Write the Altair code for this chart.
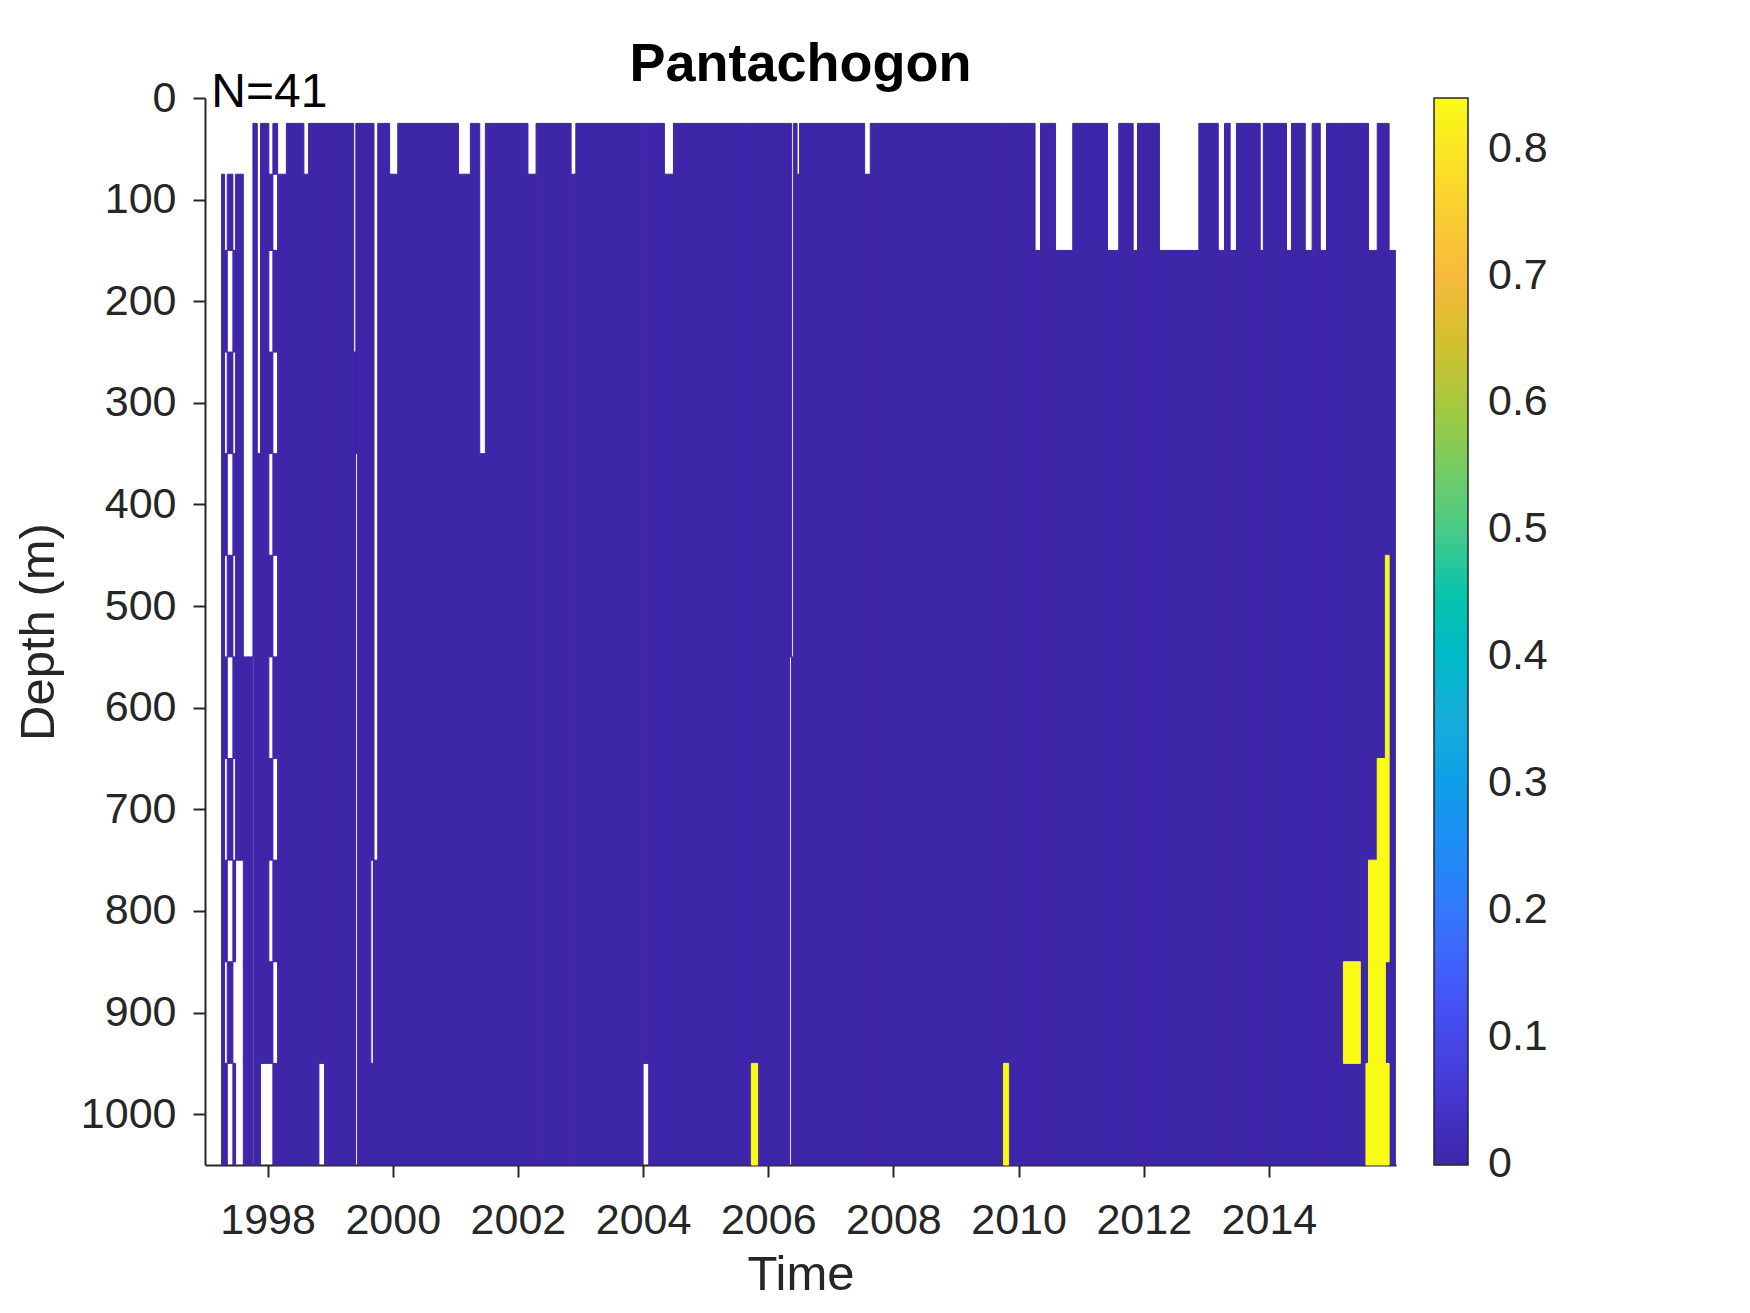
import altair as alt
import pandas as pd

# ---------------- data ----------------
bin_top = [25, 75, 150, 250, 350, 450, 550, 650, 750, 850, 950]
bin_bottom = [75, 150, 250, 350, 450, 550, 650, 750, 850, 950, 1050]

# early (1997-1998) sampling columns: start, end, coverage mask of the 11 depth bins
early_start = [1997.265, 1997.313, 1997.356, 1997.446, 1997.489, 1997.612, 1997.766,
               1997.780, 1997.835, 1997.888, 1998.020, 1998.085, 1998.160]
early_end = [1997.313, 1997.356, 1997.446, 1997.489, 1997.612, 1997.766, 1997.780,
             1997.835, 1997.888, 1998.020, 1998.085, 1998.160, 1998.300]
early_mask = ["01111111111", "00101010101", "01010101010", "00101010101", "01111111000",
              "00000011111", "11111100000", "11111111111", "00001111111", "11111111110",
              "01010101010", "10101010101", "01111111111"]

# continuous record afterwards, with missing cells (gaps)
main_start = 1998.300
main_end = 2016.020
gap_start = [1998.580, 1998.820, 1999.375, 1999.405, 1999.650, 1999.700, 1999.950,
             2001.050, 2001.390, 2002.160, 2002.850, 2004.000, 2004.340, 2006.370,
             2006.340, 2006.460, 2007.540, 2010.263, 2010.590, 2011.420, 2011.830,
             2012.250, 2013.190, 2013.380, 2013.860, 2014.280, 2014.580, 2014.820,
             2015.590, 2015.920]
gap_end = [1998.655, 1998.910, 1999.410, 1999.435, 1999.690, 1999.760, 2000.080,
           2001.240, 2001.480, 2002.290, 2002.925, 2004.090, 2004.485, 2006.400,
           2006.370, 2006.500, 2007.630, 2010.350, 2010.865, 2011.600, 2011.900,
           2012.880, 2013.290, 2013.480, 2013.910, 2014.360, 2014.690, 2014.920,
           2015.730, 2016.020]
gap_first_bin = [0, 10, 0, 4, 8, 0, 0, 0, 0, 0, 0, 10, 0, 0, 6, 0, 0,
                 0, 0, 0, 0, 0, 0, 0, 0, 0, 0, 0, 0, 0]
gap_last_bin = [0, 10, 2, 10, 9, 7, 0, 0, 3, 0, 0, 10, 0, 5, 10, 0, 0,
                1, 1, 1, 1, 1, 1, 1, 1, 1, 1, 1, 1, 1]

# non-zero values
peak_start = [2005.73, 2009.76, 2015.19, 2015.59, 2015.55, 2015.59, 2015.73, 2015.86, 2015.86]
peak_end = [2005.83, 2009.84, 2015.46, 2015.86, 2015.92, 2015.92, 2015.92, 2015.92, 2015.92]
peak_bin = [10, 10, 9, 9, 10, 8, 7, 6, 5]
peak_value = [0.84, 0.84, 0.84, 0.84, 0.84, 0.84, 0.84, 0.84, 0.84]

x_ticks = [1998, 2000, 2002, 2004, 2006, 2008, 2010, 2012, 2014]
y_ticks = [0, 100, 200, 300, 400, 500, 600, 700, 800, 900, 1000]
cbar_ticks = [0, 0.1, 0.2, 0.3, 0.4, 0.5, 0.6, 0.7, 0.8]
cbar_min = -0.001
cbar_max = 0.84

note_label = ["N=41"]
note_x = [1997.10]
note_y = [8.5]

parula = ["#3E26A8", "#463BDE", "#4758F8", "#327CFC", "#2796EB", "#18ADDB", "#0BBDBD",
          "#3FCA8E", "#81CC59", "#C5C22A", "#F8BA3D", "#FAD62D", "#F9FB15"]

# ---------------- build cells ----------------
rects = []


def add(t0, t1, k0, k1, v):
    rects.append({"t0": t0, "t1": t1, "d0": bin_top[k0], "d1": bin_bottom[k1], "value": v})


for s, e, m in zip(early_start, early_end, early_mask):
    k = 0
    while k < 11:
        if m[k] == "1":
            j = k
            while j + 1 < 11 and m[j + 1] == "1":
                j += 1
            add(s, e, k, j, 0.0)
            k = j + 1
        else:
            k += 1

edges = sorted(set([main_start, main_end] + gap_start + gap_end + peak_start + peak_end))
edges = [x for x in edges if main_start <= x <= main_end]
states = []
for a, b in zip(edges[:-1], edges[1:]):
    mid = (a + b) / 2
    st = []
    for k in range(11):
        hole = any(gs <= mid < ge and gf <= k <= gl
                   for gs, ge, gf, gl in zip(gap_start, gap_end, gap_first_bin, gap_last_bin))
        if hole:
            st.append(None)
            continue
        v = 0.0
        for ps, pe, pb, pv in zip(peak_start, peak_end, peak_bin, peak_value):
            if ps <= mid < pe and pb == k:
                v = pv
        st.append(v)
    states.append([a, b, tuple(st)])

merged = []
for a, b, st in states:
    if merged and merged[-1][2] == st:
        merged[-1][1] = b
    else:
        merged.append([a, b, st])

for a, b, st in merged:
    k = 0
    while k < 11:
        if st[k] is None:
            k += 1
            continue
        j = k
        while j + 1 < 11 and st[j + 1] == st[k]:
            j += 1
        add(a, b, k, j, st[k])
        k = j + 1

df = pd.DataFrame(rects)
df_zero = df[df["value"] == 0]
df_peak = df[df["value"] > 0]
note_df = pd.DataFrame({"label": note_label, "x": note_x, "y": note_y})

n_stop = len(parula)
stops = [cbar_min + (cbar_max - cbar_min) * i / (n_stop - 1) for i in range(n_stop)]

FONT = "Liberation Sans"
AX = "#262626"

x_scale = alt.Scale(domain=[1997.0, 2016.03], nice=False, zero=False)
y_scale = alt.Scale(domain=[0, 1050], reverse=True, nice=False, zero=False)
c_scale = alt.Scale(domain=stops, range=parula, clamp=True)

x_enc = alt.X("t0:Q", scale=x_scale,
              axis=alt.Axis(values=x_ticks, format="d", title="Time", grid=False,
                            labelFontSize=43, titleFontSize=49, labelFont=FONT, titleFont=FONT,
                            labelColor=AX, titleColor=AX, titleFontWeight="normal",
                            domainColor=AX, domainWidth=2, tickColor=AX, tickWidth=2,
                            tickSize=12, labelPadding=22, titlePadding=8,
                            labelFlush=False, labelOverlap=False))
y_enc = alt.Y("d0:Q", scale=y_scale,
              axis=alt.Axis(values=y_ticks, format="d", title="Depth (m)", grid=False,
                            labelFontSize=43, titleFontSize=49, labelFont=FONT, titleFont=FONT,
                            labelColor=AX, titleColor=AX, titleFontWeight="normal",
                            domainColor=AX, domainWidth=2, tickColor=AX, tickWidth=2,
                            tickSize=12, labelPadding=17, titlePadding=17,
                            labelFlush=False, labelOverlap=False))
c_enc = alt.Color("value:Q", scale=c_scale,
                  legend=alt.Legend(title=None, type="gradient", values=cbar_ticks,
                                    labelExpr="datum.value == 0 ? '0' : format(datum.value, '.1f')",
                                    orient="right", offset=38, direction="vertical",
                                    gradientLength=1067, gradientThickness=34,
                                    gradientStrokeColor=AX, gradientStrokeWidth=1.5,
                                    labelFontSize=43, labelFont=FONT, labelColor=AX,
                                    labelOffset=20, labelLimit=300, labelOverlap=False))

heat_zero = alt.Chart(df_zero).mark_rect(stroke=parula[0], strokeWidth=1.0).encode(
    x=x_enc, x2="t1:Q", y=y_enc, y2="d1:Q", color=c_enc)
heat_peak = alt.Chart(df_peak).mark_rect(stroke=parula[-1], strokeWidth=1.0).encode(
    x=x_enc, x2="t1:Q", y=y_enc, y2="d1:Q", color=c_enc)

note = alt.Chart(note_df).mark_text(align="left", baseline="alphabetic", fontSize=48,
                                    font=FONT, color="black").encode(
    x=alt.X("x:Q", scale=x_scale),
    y=alt.Y("y:Q", scale=y_scale),
    text="label:N",
)

chart = alt.layer(heat_zero, heat_peak, note).properties(
    width=1191,
    height=1067,
    title=alt.TitleParams(text="Pantachogon", fontSize=54, fontWeight="bold", font=FONT,
                          color="black", anchor="middle", frame="group", offset=4, dy=27),
    autosize=alt.AutoSizeParams(type="none"),
    padding={"left": 197, "top": 90, "right": 340, "bottom": 140},
).configure_view(strokeWidth=0).configure_legend(gradientVerticalMaxLength=1200)

chart.save("out.html", embed_options={"renderer": "svg", "actions": False})
